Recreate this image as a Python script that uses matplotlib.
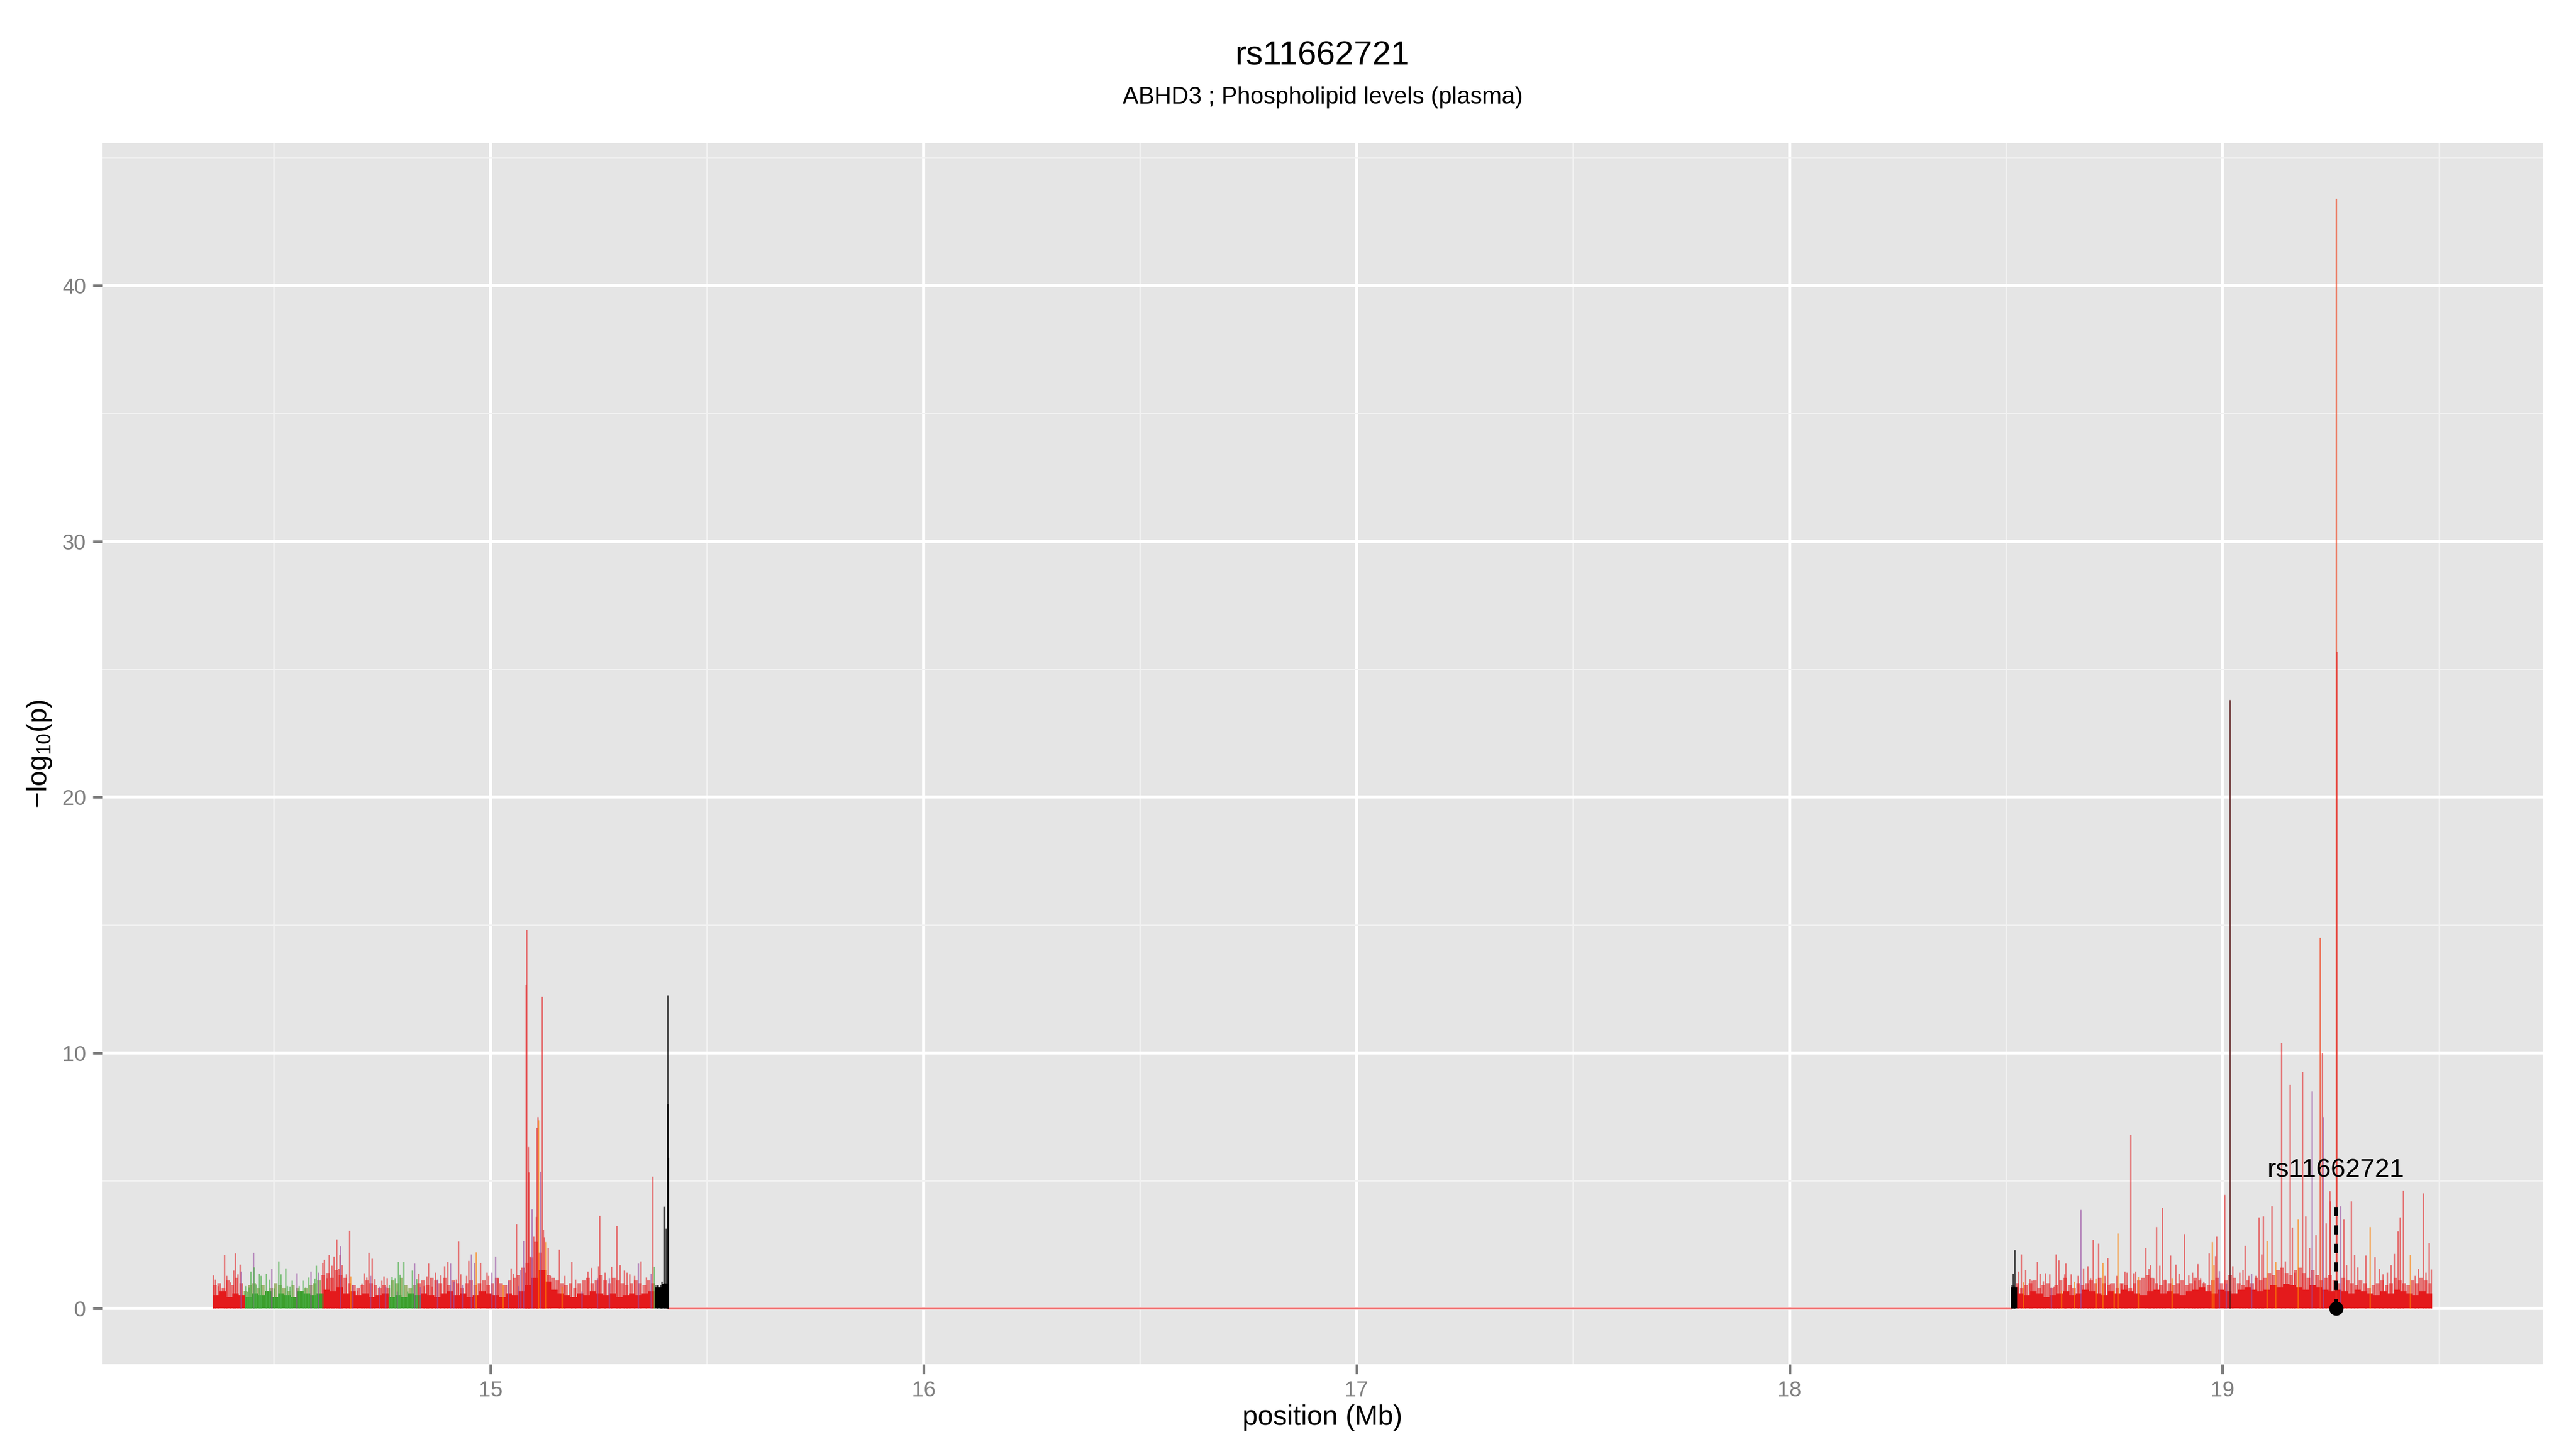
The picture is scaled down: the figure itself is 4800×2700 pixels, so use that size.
import numpy as np
import matplotlib.pyplot as plt

plt.rcParams['font.family'] = ['Liberation Sans', 'DejaVu Sans']
plt.rcParams['mathtext.default'] = 'regular'

snp_name = 'rs11662721'
subtitle = 'ABHD3 ; Phospholipid levels (plasma)'
snp_pos = 19.262
snp_stem = 4.33
snp_label_y = 5.42

# the two typed regions of the locus (Mb)
left_span = (14.359, 15.410)
right_span = (18.511, 19.484)
left_regions = [(14.430, 14.609, 'g'), (14.766, 14.832, 'g'), (15.384, 15.412, 'k')]
right_regions = [(18.505, 18.521, 'k')]

# dense low band: solid base and lighter haze, left to right
left_base = [0.35, 0.45, 0.3, 0.4, 0.35,
             0.3, 0.4, 0.35, 0.45, 0.3, 0.4, 0.35, 0.3, 0.45, 0.4, 0.35, 0.4,
             0.5, 0.45, 0.55, 0.4, 0.45, 0.35, 0.4, 0.3, 0.35, 0.4, 0.3,
             0.35, 0.3, 0.4, 0.35,
             0.4, 0.35, 0.3, 0.4, 0.45, 0.35, 0.4, 0.3, 0.35, 0.45, 0.4, 0.35, 0.3, 0.4, 0.35,
             0.45, 0.6, 0.8, 1.0, 0.7, 0.5,
             0.4, 0.35, 0.3, 0.4, 0.35, 0.45, 0.4, 0.35, 0.4, 0.3, 0.35, 0.4, 0.35, 0.4, 0.45,
             0.55, 0.65]
left_haze = [0.9, 1.0, 0.8, 1.1, 0.9, 1.2, 1.0,
             0.7, 0.9, 1.0, 0.8, 0.9, 0.7, 0.8, 1.0, 0.9, 0.8, 0.7, 0.9, 0.8, 0.7, 0.8, 0.9, 1.0, 1.1,
             1.3, 1.4, 1.2, 1.5, 1.3, 1.2, 1.0, 0.9, 0.8, 0.9, 1.1, 1.0, 0.9, 0.8, 0.9, 0.8,
             1.1, 1.0, 1.2, 0.9, 0.8, 0.9,
             1.0, 1.1, 0.9, 1.2, 1.1, 1.0, 1.2, 0.9, 1.1, 1.0, 0.8, 1.0, 1.1, 0.9, 1.0, 1.1, 0.9, 1.0,
             1.2, 1.0, 0.9, 1.1,
             1.2, 1.3, 1.6, 1.8, 2.0, 2.6, 2.2, 1.5, 1.3, 1.2,
             1.1, 1.0, 0.9, 1.0, 0.8, 1.0, 1.1, 1.2, 1.0, 1.1, 1.3, 1.1, 1.0, 1.2, 1.1, 1.0, 0.9,
             1.0, 1.1, 1.0, 0.9, 1.1, 1.0, 0.9, 0.8, 1.0]
right_base = [0.55,
              0.4, 0.35, 0.45, 0.4, 0.3, 0.35, 0.4, 0.45, 0.35, 0.4,
              0.5, 0.45, 0.4, 0.35, 0.45, 0.4, 0.5, 0.45, 0.4, 0.35,
              0.45, 0.5, 0.4, 0.45, 0.4, 0.35, 0.45, 0.5, 0.55, 0.45,
              0.4, 0.5, 0.45, 0.4, 0.5, 0.55, 0.5, 0.45, 0.5, 0.6,
              0.55, 0.65, 0.6, 0.55, 0.5, 0.6, 0.55, 0.5, 0.45, 0.5,
              0.45, 0.4, 0.5, 0.45, 0.4, 0.35, 0.45, 0.4, 0.5, 0.45,
              0.4, 0.35, 0.45, 0.4]
right_haze = [0.9, 1.0, 0.8, 0.9, 1.0, 1.1, 0.8, 0.9, 1.0, 0.8, 0.9, 1.1, 1.2, 0.9, 0.8, 1.0, 0.9, 1.0,
              1.1, 1.0, 1.2, 1.0, 0.9, 1.0, 0.8, 1.0, 0.9, 0.8, 1.0, 1.1, 1.2, 1.3, 1.2, 1.0, 0.9, 1.1, 1.0, 0.9,
              1.0, 1.1, 0.9, 1.0, 1.2, 1.1, 1.0, 0.9, 1.1, 1.2, 1.0, 1.1, 1.3, 1.2, 1.0, 0.9, 1.1, 1.0, 1.2, 1.1,
              1.2, 1.4, 1.3, 1.5, 1.6, 1.4, 1.3, 1.5, 1.6, 1.4, 1.2, 1.5, 1.3, 1.1, 1.2, 1.3, 1.1, 1.0, 1.2, 1.1,
              1.0, 0.9, 1.1, 1.0, 0.8, 0.9, 1.0, 1.1, 0.9, 1.0, 1.2, 1.1, 1.0, 0.9, 1.1, 1.0, 1.2, 1.1, 1.0]

# individual SNP spikes: position (Mb), -log10(p), colour code
left_pos = [14.360, 14.364, 14.370, 14.385, 14.390, 14.399, 14.407, 14.410, 14.417, 14.421, 14.424,
            14.434, 14.439, 14.443, 14.446, 14.452, 14.454, 14.458, 14.466, 14.470, 14.482, 14.489,
            14.494, 14.501, 14.511, 14.515, 14.527, 14.531, 14.537, 14.541, 14.553, 14.558, 14.567,
            14.572, 14.580, 14.585, 14.594, 14.598, 14.602, 14.612, 14.616, 14.622, 14.627, 14.633,
            14.638, 14.644, 14.650, 14.652, 14.653, 14.657, 14.667, 14.674, 14.677, 14.682, 14.693,
            14.703, 14.708, 14.714, 14.719, 14.723, 14.726, 14.733, 14.744, 14.748, 14.753, 14.757,
            14.761, 14.766, 14.772, 14.779, 14.785, 14.787, 14.791, 14.799, 14.808, 14.819, 14.824,
            14.829, 14.834, 14.838, 14.847, 14.853, 14.856, 14.865, 14.872, 14.878, 14.885, 14.894,
            14.901, 14.907, 14.915, 14.921, 14.926, 14.931, 14.934, 14.945, 14.949, 14.956, 14.963,
            14.967, 14.977, 14.991, 14.995, 15.003, 15.011, 15.018, 15.029, 15.041, 15.047, 15.052,
            15.060, 15.064, 15.070, 15.076, 15.079, 15.082, 15.083, 15.087, 15.088, 15.091, 15.096,
            15.099, 15.105, 15.107, 15.109, 15.111, 15.115, 15.119, 15.121, 15.124, 15.126, 15.133,
            15.138, 15.159, 15.165, 15.171, 15.187, 15.196, 15.211, 15.224, 15.233, 15.247, 15.249,
            15.252, 15.264, 15.274, 15.279, 15.291, 15.299, 15.309, 15.315, 15.321, 15.332, 15.341,
            15.347, 15.360, 15.371, 15.374, 15.378, 15.386, 15.393, 15.396, 15.402, 15.406, 15.409,
            15.4092, 15.410]
left_h = [1.31, 1.14, 0.89, 2.10, 1.28, 1.03, 1.49, 2.16, 1.36, 1.73, 1.45,
          0.89, 0.65, 0.82, 1.45, 2.20, 1.63, 0.96, 1.38, 1.28, 1.38, 1.14,
          1.56, 0.80, 1.86, 1.35, 1.58, 0.89, 0.86, 1.10, 1.40, 0.89, 1.10,
          0.82, 1.22, 1.45, 1.19, 1.69, 1.42, 1.80, 1.91, 1.21, 2.10, 1.69,
          2.05, 2.71, 1.56, 2.10, 2.45, 1.70, 1.35, 3.05, 1.26, 0.93, 0.72,
          1.00, 1.40, 1.22, 2.20, 1.28, 1.96, 1.17, 0.86, 1.10, 1.26, 0.86,
          1.21, 0.93, 1.24, 1.21, 0.68, 1.83, 1.33, 1.84, 0.68, 1.49, 1.76,
          1.17, 1.38, 0.84, 0.88, 1.26, 1.76, 0.86, 1.42, 1.14, 1.31, 1.66,
          1.83, 1.76, 1.05, 1.14, 2.63, 1.36, 0.93, 1.28, 1.87, 2.12, 1.80,
          2.21, 1.80, 1.42, 1.28, 1.42, 2.05, 1.21, 0.93, 1.07, 1.59, 1.38,
          3.31, 0.89, 1.52, 2.66, 1.42, 12.67, 14.82, 6.32, 5.33, 2.05, 3.88,
          2.82, 3.60, 7.07, 7.49, 7.38, 5.35, 12.20, 3.10, 2.79, 2.60, 2.37,
          1.28, 2.32, 0.86, 1.28, 1.83, 1.14, 0.68, 1.45, 1.60, 1.21, 1.66,
          3.64, 1.42, 1.21, 1.64, 3.23, 1.70, 1.49, 1.42, 1.35, 1.28, 1.77,
          1.86, 1.22, 1.38, 5.17, 1.64, 0.91, 0.93, 1.05, 4.00, 3.14, 12.27,
          8.00, 5.90]
left_col = ['r', 'r', 'r', 'r', 'r', 'r', 'r', 'r', 'r', 'r', 'p',
            'g', 'g', 'g', 'g', 'p', 'g', 'g', 'g', 'g', 'g', 'g',
            'p', 'g', 'g', 'g', 'g', 'g', 'g', 'g', 'p', 'g', 'g',
            'g', 'g', 'p', 'g', 'g', 'p', 'r', 'r', 'r', 'r', 'r',
            'r', 'r', 'r', 'r', 'p', 'r', 'r', 'r', 'o', 'p', 'r',
            'r', 'r', 'r', 'r', 'p', 'r', 'r', 'p', 'r', 'r', 'p',
            'r', 'g', 'g', 'g', 'p', 'g', 'g', 'g', 'g', 'g', 'p',
            'g', 'r', 'p', 'r', 'r', 'r', 'r', 'r', 'p', 'r', 'r',
            'r', 'p', 'p', 'r', 'r', 'r', 'p', 'r', 'r', 'p', 'p',
            'o', 'r', 'r', 'r', 'p', 'p', 'r', 'o', 'p', 'r', 'r',
            'r', 'p', 'p', 'p', 'r', 'r', 'r', 'r', 'r', 'r', 'p',
            'r', 'r', 'r', 'r', 'o', 'p', 'r', 'r', 'r', 'o', 'r',
            'r', 'r', 'o', 'r', 'r', 'r', 'p', 'r', 'r', 'p', 'r',
            'r', 'r', 'p', 'r', 'r', 'r', 'r', 'r', 'r', 'r', 'p',
            'r', 'r', 'p', 'r', 'g', 'k', 'k', 'k', 'k', 'k', 'k',
            'k', 'k']

right_pos = [18.514, 18.516, 18.518, 18.520, 18.526, 18.529, 18.535, 18.540, 18.545, 18.554, 18.560,
             18.572, 18.578, 18.586, 18.591, 18.600, 18.604, 18.610, 18.615, 18.622, 18.628, 18.635,
             18.637, 18.650, 18.657, 18.666, 18.672, 18.678, 18.688, 18.694, 18.701, 18.707, 18.713,
             18.723, 18.728, 18.734, 18.740, 18.749, 18.755, 18.758, 18.766, 18.774, 18.779, 18.787,
             18.794, 18.799, 18.805, 18.822, 18.830, 18.833, 18.841, 18.847, 18.854, 18.861, 18.867,
             18.879, 18.883, 18.891, 18.899, 18.911, 18.921, 18.930, 18.935, 18.943, 18.949, 18.956,
             18.969, 18.976, 18.980, 18.983, 18.986, 18.992, 19.005, 19.008, 19.017, 19.023, 19.039,
             19.046, 19.051, 19.060, 19.066, 19.076, 19.084, 19.090, 19.094, 19.102, 19.113, 19.122,
             19.136, 19.144, 19.155, 19.161, 19.165, 19.174, 19.184, 19.191, 19.200, 19.206, 19.215,
             19.225, 19.230, 19.232, 19.239, 19.247, 19.249, 19.262, 19.263, 19.272, 19.279, 19.286,
             19.297, 19.304, 19.312, 19.330, 19.340, 19.351, 19.361, 19.370, 19.380, 19.388, 19.396,
             19.405, 19.410, 19.417, 19.433, 19.444, 19.452, 19.463, 19.469, 19.476, 19.481]
right_h = [0.44, 1.38, 0.86, 2.30, 0.86, 1.45, 2.13, 1.03, 1.52, 1.17, 1.10,
           1.84, 1.38, 1.07, 1.40, 1.36, 0.82, 0.86, 2.13, 1.89, 0.72, 1.36,
           1.77, 1.36, 1.05, 1.28, 3.86, 1.58, 1.66, 1.21, 2.70, 1.19, 2.54,
           1.80, 1.28, 1.97, 1.00, 0.72, 1.28, 2.94, 1.00, 1.45, 1.42, 6.80,
           1.40, 1.45, 1.24, 2.38, 1.56, 1.70, 1.21, 3.20, 1.68, 3.95, 1.14,
           2.09, 1.21, 1.72, 1.38, 2.93, 1.30, 1.42, 1.10, 1.75, 1.21, 1.05,
           2.16, 2.61, 1.70, 2.07, 2.82, 1.47, 4.46, 1.00, 23.80, 1.66, 1.42,
           1.52, 2.46, 1.28, 1.37, 1.28, 3.57, 2.12, 3.62, 2.65, 4.01, 1.84,
           10.40, 1.86, 8.76, 3.17, 1.42, 3.50, 9.26, 3.62, 2.37, 8.50, 2.89,
           14.50, 10.00, 7.50, 3.34, 4.60, 4.21, 43.40, 25.70, 4.02, 3.50, 1.70,
           4.21, 2.10, 1.63, 2.09, 3.20, 2.03, 1.56, 1.35, 1.42, 1.70, 2.14,
           3.03, 3.58, 4.63, 2.10, 1.28, 1.56, 4.52, 1.42, 2.56, 1.54]
right_col = ['k', 'k', 'k', 'k', 'r', 'r', 'r', 'o', 'r', 'r', 'r',
             'r', 'r', 'r', 'r', 'r', 'p', 'r', 'r', 'r', 'o', 'r',
             'r', 'r', 'o', 'r', 'p', 'r', 'r', 'r', 'r', 'o', 'r',
             'o', 'r', 'r', 'r', 'o', 'r', 'o', 'r', 'r', 'r', 'r',
             'r', 'r', 'o', 'r', 'r', 'r', 'r', 'r', 'r', 'r', 'r',
             'r', 'o', 'r', 'r', 'r', 'r', 'r', 'r', 'r', 'r', 'r',
             'r', 'o', 'o', 'r', 'r', 'p', 'r', 'p', 'd', 'r', 'r',
             'r', 'r', 'r', 'p', 'r', 'r', 'r', 'r', 'o', 'r', 'o',
             'r', 'r', 'r', 'r', 'r', 'o', 'r', 'r', 'r', 'p', 'r',
             'q', 'r', 'p', 'r', 'r', 'r', 'q', 'r', 'p', 'r', 'r',
             'r', 'r', 'r', 'r', 'o', 'r', 'r', 'r', 'r', 'r', 'r',
             'r', 'r', 'r', 'o', 'r', 'r', 'r', 'r', 'r', 'r']

spike_colours = {'r': '#E41A1C', 'o': '#FF7F00', 'p': '#984EA3', 'g': '#4DAF4A',
                 'k': '#000000', 'd': '#5A1A1A', 'q': '#F04A26'}
spike_alpha = {'r': 0.6, 'o': 0.65, 'p': 0.65, 'g': 0.7, 'k': 0.75, 'd': 0.85, 'q': 0.75}
base_colours = {'r': '#E41A1C', 'g': '#3C9F2C', 'k': '#000000'}
haze_colours = {'r': ('#E41A1C', 0.55), 'g': ('#7E9A3C', 0.65), 'k': ('#000000', 0.45)}


def region_of(x, regions):
    for lo, hi, c in regions:
        if lo <= x < hi:
            return c
    return 'r'


fig = plt.figure(figsize=(16, 9), dpi=300)
ax = fig.add_axes([0.0396, 0.0586, 0.9476, 0.8426])
ax.set_facecolor('#E5E5E5')
for s in ax.spines.values():
    s.set_visible(False)


def draw_cluster(span, base, haze, regions, pos, h, cols):
    start, end = span
    w = (end - start) / len(haze)
    xh = start + w * (np.arange(len(haze)) + 0.5)
    for x, y in zip(xh, haze):
        c, a = haze_colours[region_of(x, regions)]
        ax.bar(x, y, width=w * 0.85, color=c, alpha=a, lw=0, zorder=2)
    w = (end - start) / len(base)
    xb = start + w * (np.arange(len(base)) + 0.5)
    ax.bar(xb, [b * 1.5 for b in base],
           width=w, color=[base_colours[region_of(x, regions)] for x in xb],
           lw=0, zorder=3)
    for x, y, c in zip(pos, h, cols):
        ax.vlines(x, 0, y, color=spike_colours[c], alpha=spike_alpha[c], lw=0.6, zorder=4)


# flat stretch between the two regions
ax.plot([left_span[1], right_span[0]], [0, 0], color='#F07474', lw=0.8, zorder=2)

draw_cluster(left_span, left_base, left_haze, left_regions, left_pos, left_h, left_col)
draw_cluster(right_span, right_base, right_haze, right_regions, right_pos, right_h, right_col)

# lead SNP marker
ax.plot([snp_pos, snp_pos], [0, snp_stem], color='black', lw=1.45, dashes=(2.8, 2.9), zorder=6)
ax.plot([snp_pos], [0], 'o', color='black', ms=5.3, zorder=7)
ax.text(snp_pos, snp_label_y, snp_name, ha='center', va='center', fontsize=11.8, zorder=7)

ax.set_xlim(14.103, 19.740)
ax.set_ylim(-2.17, 45.57)
ax.set_xticks([15, 16, 17, 18, 19])
ax.set_xticks([14.5, 15.5, 16.5, 17.5, 18.5, 19.5], minor=True)
ax.set_yticks([0, 10, 20, 30, 40])
ax.set_yticks([5, 15, 25, 35, 45], minor=True)
ax.grid(which='major', color='white', lw=1.35)
ax.grid(which='minor', color='#F2F2F2', lw=0.65)
ax.set_axisbelow(True)
ax.tick_params(which='major', length=4.2, width=1.2, color='#7F7F7F',
               labelcolor='#7F7F7F', labelsize=9.6, pad=3)
ax.tick_params(which='minor', length=0)

ax.set_xlabel('position (Mb)', fontsize=12.4)
ax.xaxis.set_label_coords(0.5, -0.044)
ax.xaxis.label.set_va('center')
ax.set_ylabel(r'$-log_{10}(p)$', fontsize=12.4)
ax.yaxis.set_label_coords(-0.0257, 0.5)
ax.yaxis.label.set_va('center')

xc = 0.0396 + 0.9476 / 2
fig.text(xc, 0.9615, snp_name, ha='center', va='center', fontsize=15)
fig.text(xc, 0.9327, subtitle, ha='center', va='center', fontsize=10.6)

fig.savefig('out.png', dpi=300)
